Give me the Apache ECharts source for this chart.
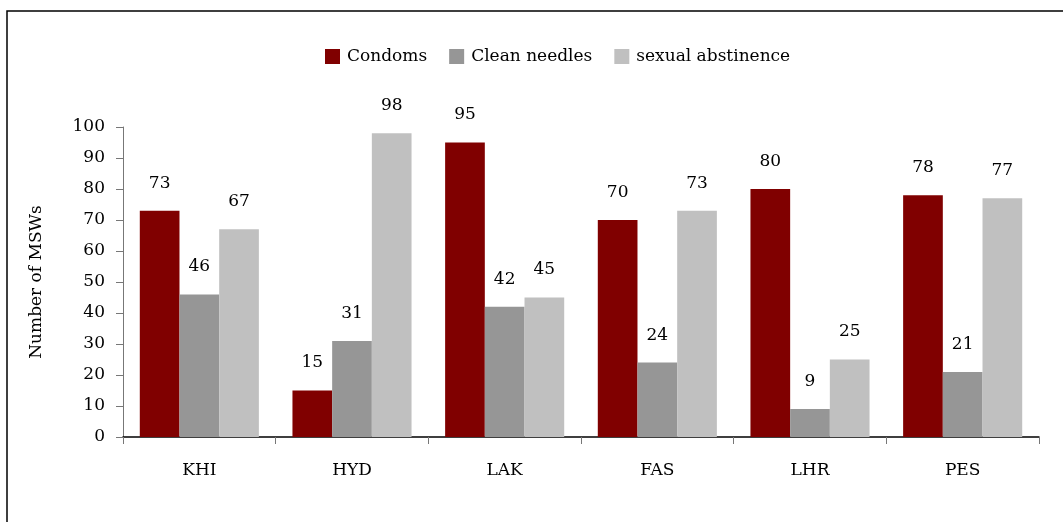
<!DOCTYPE html>
<html>
<head>
<meta charset="utf-8">
<script src="https://cdn.jsdelivr.net/npm/echarts@6/dist/echarts.min.js"></script>
<style>
html,body{margin:0;padding:0;background:#fff;}
#chart{width:1063px;height:522px;}
</style>
</head>
<body>
<div id="chart"></div>
<script>
const categories = ['KHI', 'HYD', 'LAK', 'FAS', 'LHR', 'PES'];
const condoms = [73, 15, 95, 70, 80, 78];
const cleanNeedles = [46, 31, 42, 24, 9, 21];
const sexualAbstinence = [67, 98, 45, 73, 25, 77];
const seriesNames = ['Condoms', 'Clean needles', 'sexual abstinence'];
const yTicks = { min: 0, max: 100, interval: 10 };

const FONT = 'DejaVu Serif';
const chart = echarts.init(document.getElementById('chart'), null, { renderer: 'canvas' });

function mkSeries(name, data, color) {
  return {
    name: name,
    type: 'bar',
    data: data,
    barGap: '0%',
    barCategoryGap: '22%',
    itemStyle: { color: color },
    label: {
      show: true,
      position: 'top',
      distance: 19,
      color: '#000',
      fontFamily: FONT,
      fontSize: 17
    }
  };
}

chart.setOption({
  animation: false,
  backgroundColor: '#fff',
  graphic: [{
    type: 'rect',
    shape: { x: 7, y: 11, width: 1200, height: 700 },
    style: { fill: 'none', stroke: '#000', lineWidth: 1.5 },
    silent: true,
    z: -1
  }],
  legend: {
    data: seriesNames,
    left: 320,
    top: 43,
    itemWidth: 15,
    itemHeight: 15,
    itemGap: 22,
    icon: 'rect',
    textStyle: { fontFamily: FONT, fontSize: 17, color: '#000', padding: [0, 0, 0, 2] }
  },
  grid: { left: 123, right: 24, top: 127, bottom: 85 },
  xAxis: {
    type: 'category',
    data: categories,
    axisLine: { lineStyle: { color: '#000', width: 1.5 } },
    axisTick: { show: true, length: 7, lineStyle: { color: '#777' } },
    axisLabel: { margin: 25, fontFamily: FONT, fontSize: 17, color: '#000' }
  },
  yAxis: {
    type: 'value',
    min: yTicks.min,
    max: yTicks.max,
    interval: yTicks.interval,
    name: 'Number of MSWs',
    nameLocation: 'middle',
    nameGap: 78,
    nameRotate: 90,
    nameTextStyle: { fontFamily: FONT, fontSize: 17, color: '#000' },
    axisLine: { show: true, lineStyle: { color: '#777', width: 1 } },
    axisTick: { show: true, length: 7, lineStyle: { color: '#777' } },
    splitLine: { show: false },
    axisLabel: { margin: 18, fontFamily: FONT, fontSize: 17, color: '#000' }
  },
  series: [
    mkSeries(seriesNames[0], condoms, '#800000'),
    mkSeries(seriesNames[1], cleanNeedles, '#969696'),
    mkSeries(seriesNames[2], sexualAbstinence, '#c0c0c0')
  ]
});
</script>
</body>
</html>
